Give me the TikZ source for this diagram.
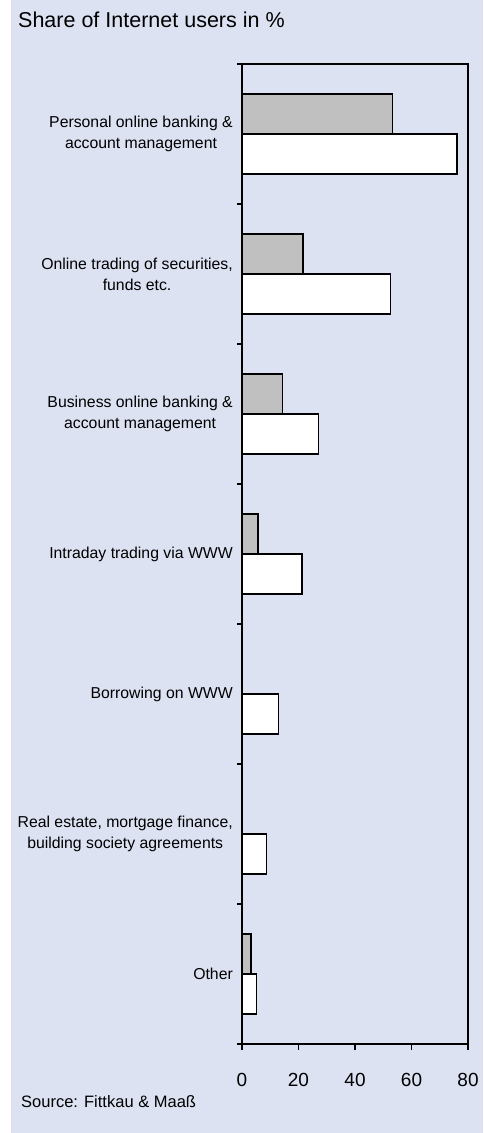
\documentclass[tikz,border=0pt]{standalone}
\usepackage{fontspec}
\setmainfont{Liberation Sans}
\definecolor{bgblue}{HTML}{DCE2F2}
\definecolor{bargray}{HTML}{C0C0C0}
\begin{document}
\begin{tikzpicture}[x=1pt,y=-1pt,
  catlabel/.style={anchor=east,align=center,font=\fontsize{15.8}{21}\selectfont,inner sep=0pt},
  ticklabel/.style={anchor=base,font=\fontsize{19}{22}\selectfont,inner sep=0pt},
  axisline/.style={line width=2pt,black},
  graybar/.style={draw=black,line width=1.6pt,fill=bargray},
  whitebar/.style={draw=black,line width=1.6pt,fill=white}]
\useasboundingbox (0,0) rectangle (483,1133);
\fill[bgblue] (11,0) rectangle (483,1133);
\node[anchor=base west,inner sep=0pt,font=\fontsize{21.5}{24}\selectfont] (title) at (18,27) {Share of Internet users in \%};
% bars: category top T = 64 + 140*i ; value scale 2.825 px/unit
\def\px{2.825}
\foreach \i/\g/\w in {0/53.3/76.2, 1/21.5/52.6, 2/14.4/27.1, 3/5.7/21.2, 4/0/12.9, 5/0/8.7, 6/3.1/5.2}{
  \pgfmathsetmacro{\T}{64+140*\i}
  \ifdim \g pt>0pt
    \draw[graybar] (242,\T+30) rectangle ({242+\g*\px},\T+70);
  \fi
  \draw[whitebar] (242,\T+70) rectangle ({242+\w*\px},\T+110);
}
% axes frame
\draw[axisline] (468,64) -- (242,64) -- (242,1044) -- (468,1044) -- cycle;
\foreach \i in {0,...,7}{
  \draw[line width=1.5pt] (237,64+140*\i) -- (242,64+140*\i);
}
\foreach \v in {0,20,40,60,80}{
  \draw[line width=1.5pt] ({242+\v*\px},1044) -- ({242+\v*\px},1050);
  \node[ticklabel] (t\v) at ({242+\v*\px},1086) {\v};
}
% category labels
\node[catlabel] (c1) at (233,134) {Personal online banking \&\\account management};
\node[catlabel] (c2) at (233,274) {Online trading of securities,\\funds etc.};
\node[catlabel] (c3) at (233,414) {Business online banking \&\\account management};
\node[catlabel] (c4) at (233,554) {Intraday trading via WWW};
\node[catlabel] (c5) at (233,694) {Borrowing on WWW};
\node[catlabel] (c6) at (233,834) {Real estate, mortgage finance,\\building society agreements};
\node[catlabel] (c7) at (233,974) {Other};
\node[anchor=base west,inner sep=0pt,font=\fontsize{16.5}{18}\selectfont] (src) at (21,1107) {Source: Fittkau \& Maaß};
\end{tikzpicture}
\end{document}
